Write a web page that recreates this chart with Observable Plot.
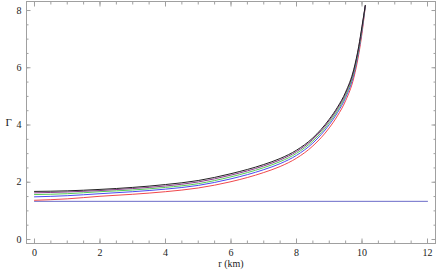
<!DOCTYPE html>
<html>
<head>
<meta charset="utf-8">
<script src="https://cdn.jsdelivr.net/npm/d3@7"></script>
<script src="https://cdn.jsdelivr.net/npm/@observablehq/plot@0.6"></script>
<style>
  html, body { margin: 0; padding: 0; background: #fff; }
  svg { display: block; }
  svg, svg text { font-family: 'Liberation Serif', 'DejaVu Serif', serif !important; }
</style>
</head>
<body>
<div id="chart"></div>
<script>
// radius (km)
const r = [0, 1, 2, 3, 4, 5, 6, 7, 7.5, 8, 8.5, 9, 9.25, 9.5, 9.75, 9.9, 10, 10.1];
// adiabatic index Γ for each model
const gammaBlack  = [1.68, 1.70, 1.75, 1.82, 1.92, 2.06, 2.30, 2.62, 2.83, 3.12, 3.55, 4.20, 4.62, 5.15, 5.95, 6.75, 7.45, 8.18];
const gammaPurple = [1.63, 1.66, 1.71, 1.78, 1.87, 2.01, 2.25, 2.57, 2.78, 3.07, 3.50, 4.15, 4.57, 5.10, 5.90, 6.71, 7.41, 8.17];
const gammaGreen  = [1.57, 1.60, 1.67, 1.73, 1.82, 1.95, 2.19, 2.51, 2.72, 3.01, 3.44, 4.08, 4.50, 5.03, 5.83, 6.64, 7.35, 8.16];
const gammaBlue   = [1.49, 1.53, 1.60, 1.67, 1.76, 1.89, 2.12, 2.44, 2.65, 2.94, 3.37, 4.01, 4.43, 4.96, 5.76, 6.58, 7.30, 8.15];
const gammaRed    = [1.37, 1.42, 1.51, 1.58, 1.67, 1.80, 2.02, 2.34, 2.55, 2.84, 3.27, 3.90, 4.32, 4.85, 5.65, 6.47, 7.20, 8.13];
// critical value 4/3
const critR = [0, 12];
const critGamma = [4/3, 4/3];

const series = [
  {name: "red", values: gammaRed, color: "#f0484c"},
  {name: "blue", values: gammaBlue, color: "#4a4af0"},
  {name: "green", values: gammaGreen, color: "#55cc55"},
  {name: "purple", values: gammaPurple, color: "#8a3a8a"},
  {name: "black", values: gammaBlack, color: "#222222"}
];

const xMajor = [0, 2, 4, 6, 8, 10, 12];
const yMajor = [0, 2, 4, 6, 8];
const xMinor = d3.range(0, 12.01, 0.5);
const yMinor = d3.range(0, 8.01, 0.5);

const font = "'Liberation Serif', 'DejaVu Serif', serif";
const frameColor = "#a0a0a0";

const lineMarks = series.map(s =>
  Plot.line(r.map((x, i) => ({r: x, g: s.values[i]})), {
    x: "r", y: "g", stroke: s.color, strokeWidth: 1, curve: "monotone-x"
  })
);

const chart = Plot.plot({
  width: 436,
  height: 273,
  marginLeft: 26,
  marginRight: 1,
  marginTop: 1,
  marginBottom: 30,
  style: `font-family: ${font}; font-size: 10px; background: #fff;`,
  x: {domain: [-0.244, 12.244]},
  y: {domain: [-0.14, 8.315]},
  marks: [
    Plot.frame({stroke: frameColor}),
    // minor ticks (inward)
    Plot.axisX(xMinor, {anchor: "bottom", tickSize: -2.5, text: null, stroke: frameColor, label: null}),
    Plot.axisX(xMinor, {anchor: "top", tickSize: -2.5, text: null, stroke: frameColor, label: null}),
    Plot.axisY(yMinor, {anchor: "left", tickSize: -2.5, text: null, stroke: frameColor, label: null}),
    Plot.axisY(yMinor, {anchor: "right", tickSize: -2.5, text: null, stroke: frameColor, label: null}),
    // major ticks (inward)
    Plot.axisX(xMajor, {anchor: "bottom", tickSize: -4.5, text: null, stroke: frameColor, label: null}),
    Plot.axisX(xMajor, {anchor: "top", tickSize: -4.5, text: null, stroke: frameColor, label: null}),
    Plot.axisY(yMajor, {anchor: "left", tickSize: -4.5, text: null, stroke: frameColor, label: null}),
    Plot.axisY(yMajor, {anchor: "right", tickSize: -4.5, text: null, stroke: frameColor, label: null}),
    // tick labels
    Plot.axisX(xMajor, {anchor: "bottom", tickSize: 0, tickPadding: 5, label: null, fill: "#222", fontSize: 10, fontFamily: font}),
    Plot.axisY(yMajor, {anchor: "left", tickSize: 0, tickPadding: 5, label: null, fill: "#222", fontSize: 10, fontFamily: font}),
    // axis titles
    Plot.text(["r (km)"], {frameAnchor: "bottom", dy: 23, fill: "#222", fontSize: 10, fontFamily: font}),
    Plot.text(["Γ"], {frameAnchor: "left", dx: -21, fill: "#222", fontSize: 11, fontFamily: font}),
    // critical line
    Plot.line(critR.map((x, i) => ({r: x, g: critGamma[i]})), {x: "r", y: "g", stroke: "#6b6bc8", strokeWidth: 1}),
    ...lineMarks
  ]
});

document.getElementById("chart").appendChild(chart);
</script>
</body>
</html>
